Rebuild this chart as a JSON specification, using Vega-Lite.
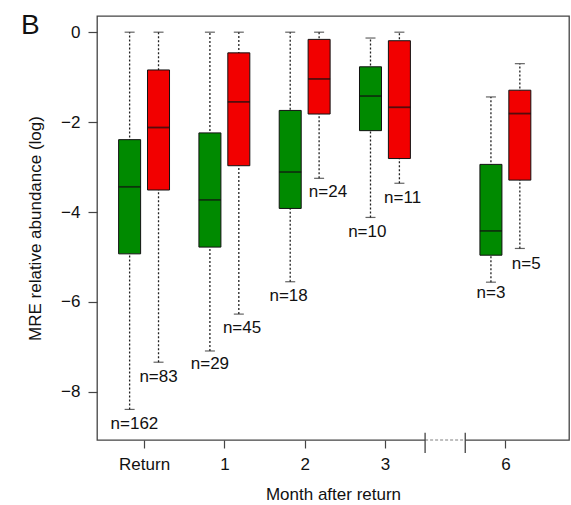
{
  "$schema": "https://vega.github.io/schema/vega-lite/v6.json",
  "width": 472,
  "height": 424,
  "autosize": "none",
  "padding": {"left": 97, "top": 16, "right": 2, "bottom": 65},
  "background": "white",
  "config": {
    "font": "Liberation Sans",
    "view": {"stroke": "#444", "strokeWidth": 1.3},
    "axis": {"grid": false, "domain": false, "labelFont": "Liberation Sans", "titleFont": "Liberation Sans", "labelFontSize": 17, "titleFontSize": 17, "titleFontWeight": "normal", "labelColor": "#111", "titleColor": "#111", "tickColor": "#444", "tickWidth": 1.2}
  },
  "title": {"text": "B", "anchor": "start", "frame": "group", "dx": -76, "dy": 46, "fontSize": 28, "fontWeight": "normal", "font": "Liberation Sans", "color": "#111", "baseline": "alphabetic", "offset": 0},
  "datasets": {
    "boxes": [
      {"month": "Return", "group": "green", "at": 0.82, "lo": -8.39, "q1": -4.93, "med": -3.44, "q3": -2.39, "hi": 0.0},
      {"month": "Return", "group": "red", "at": 1.18, "lo": -7.34, "q1": -3.51, "med": -2.12, "q3": -0.84, "hi": 0.0},
      {"month": "1", "group": "green", "at": 1.82, "lo": -7.09, "q1": -4.78, "med": -3.73, "q3": -2.24, "hi": 0.0},
      {"month": "1", "group": "red", "at": 2.18, "lo": -6.27, "q1": -2.97, "med": -1.55, "q3": -0.46, "hi": 0.0},
      {"month": "2", "group": "green", "at": 2.82, "lo": -5.55, "q1": -3.92, "med": -3.11, "q3": -1.74, "hi": 0.0},
      {"month": "2", "group": "red", "at": 3.18, "lo": -3.25, "q1": -1.82, "med": -1.04, "q3": -0.16, "hi": 0.0},
      {"month": "3", "group": "green", "at": 3.82, "lo": -4.12, "q1": -2.19, "med": -1.42, "q3": -0.77, "hi": -0.13},
      {"month": "3", "group": "red", "at": 4.18, "lo": -3.36, "q1": -2.81, "med": -1.67, "q3": -0.19, "hi": 0.0},
      {"month": "6", "group": "green", "at": 5.32, "lo": -5.56, "q1": -4.96, "med": -4.42, "q3": -2.94, "hi": -1.44},
      {"month": "6", "group": "red", "at": 5.68, "lo": -4.81, "q1": -3.29, "med": -1.81, "q3": -1.29, "hi": -0.70}
    ],
    "labels": [
      {"label": "n=162", "lx": 0.88, "ly": -8.71},
      {"label": "n=83", "lx": 1.18, "ly": -7.66},
      {"label": "n=29", "lx": 1.82, "ly": -7.38},
      {"label": "n=45", "lx": 2.22, "ly": -6.57},
      {"label": "n=18", "lx": 2.80, "ly": -5.87},
      {"label": "n=24", "lx": 3.29, "ly": -3.55},
      {"label": "n=10", "lx": 3.78, "ly": -4.45},
      {"label": "n=11", "lx": 4.22, "ly": -3.68},
      {"label": "n=3", "lx": 5.32, "ly": -5.81},
      {"label": "n=5", "lx": 5.76, "ly": -5.16}
    ],
    "brk": [
      {"a": 4.5, "b": 5.0, "yb": -9.07, "t1": -8.91, "t2": -9.36}
    ]
  },
  "layer": [
    {
      "data": {"name": "boxes"},
      "mark": {"type": "rule", "color": "#222", "strokeWidth": 1.3, "strokeDash": [2, 2]},
      "encoding": {
        "x": {"field": "at", "type": "quantitative", "scale": {"domain": [0.476, 6.23], "nice": false, "zero": false},
          "axis": {"values": [1, 2, 3, 4, 5.5], "title": "Month after return", "tickSize": 8, "labelPadding": 8, "titlePadding": 14,
            "labelExpr": "datum.value == 1 ? 'Return' : datum.value == 2 ? '1' : datum.value == 3 ? '2' : datum.value == 4 ? '3' : '6'"}},
        "y": {"field": "lo", "type": "quantitative", "scale": {"domain": [-9.07, 0.36], "nice": false, "zero": false},
          "axis": {"values": [-8, -6, -4, -2, 0], "title": "MRE relative abundance (log)", "tickSize": 9, "labelPadding": 8, "titlePadding": 16, "format": "d"}},
        "y2": {"field": "hi"}
      }
    },
    {
      "data": {"name": "boxes"},
      "mark": {"type": "tick", "orient": "horizontal", "size": 10, "thickness": 1.2, "color": "#222"},
      "encoding": {
        "x": {"field": "at", "type": "quantitative"},
        "y": {"field": "lo", "type": "quantitative"}
      }
    },
    {
      "data": {"name": "boxes"},
      "mark": {"type": "tick", "orient": "horizontal", "size": 10, "thickness": 1.2, "color": "#222"},
      "encoding": {
        "x": {"field": "at", "type": "quantitative"},
        "y": {"field": "hi", "type": "quantitative"}
      }
    },
    {
      "data": {"name": "boxes"},
      "mark": {"type": "bar", "width": 22, "stroke": "#111", "strokeWidth": 1},
      "encoding": {
        "x": {"field": "at", "type": "quantitative"},
        "y": {"field": "q1", "type": "quantitative"},
        "y2": {"field": "q3"},
        "fill": {"field": "group", "type": "nominal", "scale": {"domain": ["green", "red"], "range": ["#008a00", "#f20000"]}, "legend": null}
      }
    },
    {
      "data": {"name": "boxes"},
      "mark": {"type": "tick", "orient": "horizontal", "size": 22, "thickness": 1.8, "color": "#111"},
      "encoding": {
        "x": {"field": "at", "type": "quantitative"},
        "y": {"field": "med", "type": "quantitative"}
      }
    },
    {
      "data": {"name": "labels"},
      "mark": {"type": "text", "fontSize": 17, "font": "Liberation Sans", "color": "#111", "align": "center", "baseline": "middle"},
      "encoding": {
        "x": {"field": "lx", "type": "quantitative"},
        "y": {"field": "ly", "type": "quantitative"},
        "text": {"field": "label"}
      }
    },
    {
      "data": {"name": "brk"},
      "mark": {"type": "rule", "color": "white", "strokeWidth": 4},
      "encoding": {
        "x": {"field": "a", "type": "quantitative"},
        "x2": {"field": "b"},
        "y": {"field": "yb", "type": "quantitative"}
      }
    },
    {
      "data": {"name": "brk"},
      "mark": {"type": "rule", "color": "#aaa", "strokeWidth": 1.5, "strokeDash": [3, 2]},
      "encoding": {
        "x": {"field": "a", "type": "quantitative"},
        "x2": {"field": "b"},
        "y": {"field": "yb", "type": "quantitative"}
      }
    },
    {
      "data": {"name": "brk"},
      "mark": {"type": "rule", "color": "#444", "strokeWidth": 1.3},
      "encoding": {
        "x": {"field": "a", "type": "quantitative"},
        "y": {"field": "t1", "type": "quantitative"},
        "y2": {"field": "t2"}
      }
    },
    {
      "data": {"name": "brk"},
      "mark": {"type": "rule", "color": "#444", "strokeWidth": 1.3},
      "encoding": {
        "x": {"field": "b", "type": "quantitative"},
        "y": {"field": "t1", "type": "quantitative"},
        "y2": {"field": "t2"}
      }
    }
  ]
}
